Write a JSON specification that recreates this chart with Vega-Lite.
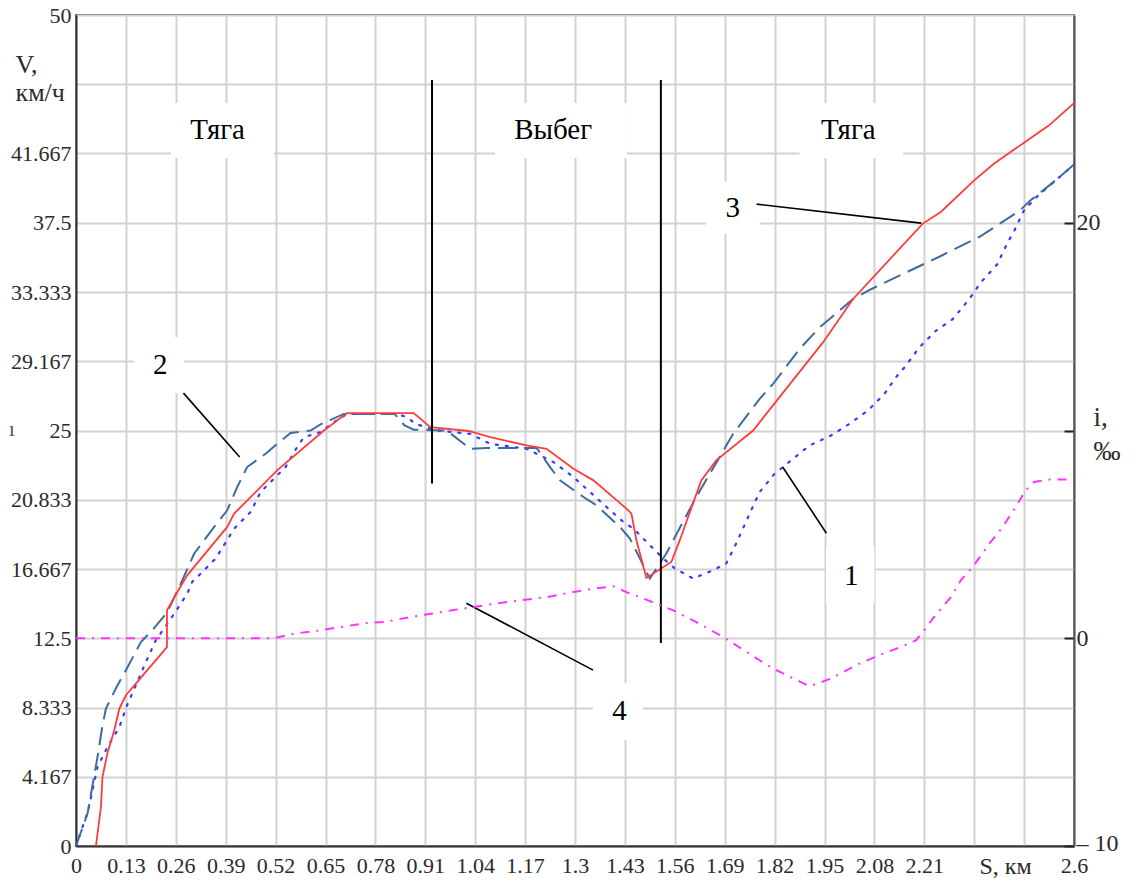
{
  "$schema": "https://vega.github.io/schema/vega-lite/v6.json",
  "width": 998,
  "height": 831,
  "autosize": {"type": "none"},
  "padding": {"left": 76, "top": 15, "right": 66, "bottom": 36},
  "background": "white",
  "config": {
    "view": {"stroke": "#555555", "strokeWidth": 2},
    "font": "Liberation Serif",
    "axis": {
      "labelFont": "Liberation Serif",
      "titleFont": "Liberation Serif",
      "labelFontSize": 22,
      "titleFontSize": 22,
      "titleFontWeight": "normal",
      "labelColor": "#2b2b2b",
      "titleColor": "#2b2b2b",
      "domainColor": "#333333",
      "domainWidth": 2,
      "gridColor": "#d2d2d2",
      "gridWidth": 2,
      "gridOpacity": 1,
      "labelOverlap": false,
      "labelFlush": false
    }
  },
  "datasets": {
    "s1": [
      {"s": 0, "v": 0}, {"s": 0.032, "v": 2.15}, {"s": 0.043, "v": 3.35}, {"s": 0.056, "v": 4.75},
      {"s": 0.082, "v": 5.96}, {"s": 0.113, "v": 7.16}, {"s": 0.133, "v": 8.47}, {"s": 0.156, "v": 9.67},
      {"s": 0.182, "v": 11.07}, {"s": 0.208, "v": 12.38}, {"s": 0.238, "v": 13.38}, {"s": 0.256, "v": 13.98},
      {"s": 0.29, "v": 15.19}, {"s": 0.303, "v": 15.9}, {"s": 0.325, "v": 16.39}, {"s": 0.364, "v": 17.3},
      {"s": 0.412, "v": 19.1}, {"s": 0.455, "v": 20.1}, {"s": 0.481, "v": 21.3}, {"s": 0.546, "v": 22.8},
      {"s": 0.576, "v": 24.0}, {"s": 0.594, "v": 24.6}, {"s": 0.637, "v": 24.9}, {"s": 0.672, "v": 25.5},
      {"s": 0.706, "v": 26.0}, {"s": 0.836, "v": 26.0}, {"s": 0.862, "v": 25.8}, {"s": 0.884, "v": 25.4},
      {"s": 0.94, "v": 25.0}, {"s": 1.027, "v": 24.8}, {"s": 1.079, "v": 24.2}, {"s": 1.174, "v": 23.9},
      {"s": 1.244, "v": 23.1}, {"s": 1.296, "v": 22.2}, {"s": 1.339, "v": 21.3}, {"s": 1.382, "v": 20.4},
      {"s": 1.426, "v": 19.5}, {"s": 1.452, "v": 19.1}, {"s": 1.495, "v": 18.1}, {"s": 1.53, "v": 17.3},
      {"s": 1.56, "v": 16.7}, {"s": 1.608, "v": 16.09}, {"s": 1.66, "v": 16.6}, {"s": 1.694, "v": 17.0},
      {"s": 1.72, "v": 18.2}, {"s": 1.755, "v": 20.0}, {"s": 1.781, "v": 21.3}, {"s": 1.82, "v": 22.4},
      {"s": 1.863, "v": 23.2}, {"s": 1.911, "v": 24.1}, {"s": 1.967, "v": 24.7}, {"s": 2.015, "v": 25.4},
      {"s": 2.063, "v": 26.2}, {"s": 2.106, "v": 27.2}, {"s": 2.136, "v": 28.2}, {"s": 2.162, "v": 28.9},
      {"s": 2.197, "v": 30.0}, {"s": 2.24, "v": 31.0}, {"s": 2.284, "v": 31.7}, {"s": 2.327, "v": 32.9},
      {"s": 2.357, "v": 33.9}, {"s": 2.4, "v": 35.0}, {"s": 2.427, "v": 36.3}, {"s": 2.444, "v": 37.0},
      {"s": 2.47, "v": 38.25}, {"s": 2.5, "v": 39.0}, {"s": 2.552, "v": 40.05}, {"s": 2.6, "v": 41.0}
    ],
    "s2": [
      {"s": 0, "v": 0}, {"s": 0.03, "v": 1.95}, {"s": 0.056, "v": 5.35}, {"s": 0.069, "v": 7.26},
      {"s": 0.078, "v": 8.27}, {"s": 0.108, "v": 9.67}, {"s": 0.13, "v": 10.57}, {"s": 0.169, "v": 12.27},
      {"s": 0.199, "v": 12.98}, {"s": 0.238, "v": 14.08}, {"s": 0.277, "v": 15.99}, {"s": 0.308, "v": 17.6},
      {"s": 0.36, "v": 19.2}, {"s": 0.394, "v": 20.2}, {"s": 0.42, "v": 21.6}, {"s": 0.446, "v": 22.8},
      {"s": 0.494, "v": 23.6}, {"s": 0.524, "v": 24.2}, {"s": 0.559, "v": 24.85}, {"s": 0.611, "v": 25.0},
      {"s": 0.637, "v": 25.37}, {"s": 0.698, "v": 26.0}, {"s": 0.83, "v": 26.0}, {"s": 0.856, "v": 25.3},
      {"s": 0.88, "v": 25.05}, {"s": 0.966, "v": 25.0}, {"s": 1.027, "v": 23.9}, {"s": 1.07, "v": 23.95},
      {"s": 1.2, "v": 23.95}, {"s": 1.235, "v": 22.8}, {"s": 1.261, "v": 22.0}, {"s": 1.322, "v": 21.0},
      {"s": 1.356, "v": 20.5}, {"s": 1.417, "v": 19.2}, {"s": 1.443, "v": 18.5}, {"s": 1.495, "v": 16.09},
      {"s": 1.538, "v": 17.6}, {"s": 1.556, "v": 18.4}, {"s": 1.616, "v": 21.0}, {"s": 1.712, "v": 24.8},
      {"s": 1.781, "v": 26.9}, {"s": 1.816, "v": 27.8}, {"s": 1.885, "v": 29.9}, {"s": 1.937, "v": 31.2},
      {"s": 2.024, "v": 32.9}, {"s": 2.071, "v": 33.5}, {"s": 2.253, "v": 35.5}, {"s": 2.357, "v": 36.7},
      {"s": 2.457, "v": 38.2}, {"s": 2.487, "v": 38.85}, {"s": 2.552, "v": 40.05}, {"s": 2.6, "v": 41.0}
    ],
    "s3": [
      {"s": 0.052, "v": 0}, {"s": 0.065, "v": 2.35}, {"s": 0.069, "v": 4.15}, {"s": 0.082, "v": 5.6},
      {"s": 0.1, "v": 7.0}, {"s": 0.113, "v": 8.27}, {"s": 0.13, "v": 9.07}, {"s": 0.16, "v": 9.87},
      {"s": 0.178, "v": 10.37}, {"s": 0.237, "v": 11.97}, {"s": 0.237, "v": 14.18}, {"s": 0.264, "v": 15.28},
      {"s": 0.29, "v": 16.3}, {"s": 0.394, "v": 19.2}, {"s": 0.412, "v": 20.0}, {"s": 0.464, "v": 21.2},
      {"s": 0.524, "v": 22.6}, {"s": 0.646, "v": 25.0}, {"s": 0.706, "v": 26.05}, {"s": 0.88, "v": 26.05},
      {"s": 0.923, "v": 25.2}, {"s": 1.023, "v": 24.97}, {"s": 1.079, "v": 24.6}, {"s": 1.174, "v": 24.1},
      {"s": 1.226, "v": 23.9}, {"s": 1.296, "v": 22.7}, {"s": 1.348, "v": 22.0}, {"s": 1.434, "v": 20.3},
      {"s": 1.447, "v": 20.0}, {"s": 1.46, "v": 18.4}, {"s": 1.486, "v": 16.13}, {"s": 1.551, "v": 17.09},
      {"s": 1.573, "v": 18.4}, {"s": 1.629, "v": 22.0}, {"s": 1.668, "v": 23.2}, {"s": 1.764, "v": 25.0},
      {"s": 1.946, "v": 30.3}, {"s": 2.024, "v": 32.9}, {"s": 2.206, "v": 37.45}, {"s": 2.253, "v": 38.15},
      {"s": 2.34, "v": 40.05}, {"s": 2.392, "v": 41.06}, {"s": 2.466, "v": 42.26}, {"s": 2.535, "v": 43.36},
      {"s": 2.6, "v": 44.7}
    ],
    "s4": [
      {"s": 0, "i": 0}, {"s": 0.516, "i": 0}, {"s": 0.568, "i": 0.22}, {"s": 0.637, "i": 0.38},
      {"s": 0.689, "i": 0.54}, {"s": 0.758, "i": 0.73}, {"s": 0.802, "i": 0.78}, {"s": 0.871, "i": 1.02},
      {"s": 0.992, "i": 1.38}, {"s": 1.105, "i": 1.7}, {"s": 1.226, "i": 1.98}, {"s": 1.33, "i": 2.34},
      {"s": 1.4, "i": 2.5}, {"s": 1.434, "i": 2.22}, {"s": 1.469, "i": 1.98}, {"s": 1.556, "i": 1.34},
      {"s": 1.616, "i": 0.78}, {"s": 1.686, "i": 0.06}, {"s": 1.781, "i": -1.06}, {"s": 1.816, "i": -1.46},
      {"s": 1.911, "i": -2.31}, {"s": 1.967, "i": -1.94}, {"s": 2.032, "i": -1.3}, {"s": 2.102, "i": -0.74},
      {"s": 2.149, "i": -0.42}, {"s": 2.188, "i": -0.1}, {"s": 2.206, "i": 0.3}, {"s": 2.232, "i": 0.94},
      {"s": 2.279, "i": 1.98}, {"s": 2.305, "i": 2.79}, {"s": 2.336, "i": 3.43}, {"s": 2.379, "i": 4.55},
      {"s": 2.414, "i": 5.35}, {"s": 2.448, "i": 6.32}, {"s": 2.474, "i": 7.12}, {"s": 2.496, "i": 7.52},
      {"s": 2.535, "i": 7.64}, {"s": 2.6, "i": 7.65}
    ],
    "phases": [
      {"s": 0.9275, "v": 21.81, "v2": 46.09},
      {"s": 1.5237, "v": 12.22, "v2": 46.09}
    ],
    "leaders": [
      {"s": 0.28, "v": 27.25, "s2": 0.4264, "v2": 23.4},
      {"s": 1.773, "v": 38.62, "s2": 2.202, "v2": 37.48},
      {"s": 1.841, "v": 22.8, "s2": 1.955, "v2": 18.82},
      {"s": 1.017, "v": 14.61, "s2": 1.347, "v2": 10.58}
    ],
    "boxes": [
      {"s": 0.247, "s2": 0.515, "v": 41.4, "v2": 44.7},
      {"s": 1.092, "s2": 1.435, "v": 41.4, "v2": 44.7},
      {"s": 1.885, "s2": 2.155, "v": 41.4, "v2": 44.7},
      {"s": 0.151, "s2": 0.281, "v": 27.25, "v2": 30.6},
      {"s": 1.641, "s2": 1.781, "v": 36.86, "v2": 39.97},
      {"s": 1.954, "s2": 2.08, "v": 14.6, "v2": 18.0},
      {"s": 1.347, "s2": 1.477, "v": 6.36, "v2": 9.79}
    ],
    "labels": [
      {"s": 0.369, "v": 42.52, "t": "Тяга"},
      {"s": 1.243, "v": 42.52, "t": "Выбег"},
      {"s": 2.012, "v": 42.52, "t": "Тяга"},
      {"s": 0.2197, "v": 28.39, "t": "2"},
      {"s": 1.711, "v": 37.84, "t": "3"},
      {"s": 2.02, "v": 15.69, "t": "1"},
      {"s": 1.416, "v": 7.57, "t": "4"}
    ],
    "stray": [
      {"s": -0.167, "v": 25.1, "t": "ı"}
    ]
  },
  "encoding": {
    "x": {
      "field": "s", "type": "quantitative",
      "scale": {"domain": [0, 2.6], "nice": false, "zero": false},
      "axis": {
        "values": [0, 0.13, 0.26, 0.39, 0.52, 0.65, 0.78, 0.91, 1.04, 1.17, 1.3, 1.43, 1.56, 1.69, 1.82, 1.95, 2.08, 2.21, 2.34, 2.47, 2.6],
        "format": ".2~f",
        "labelExpr": "datum.value > 2.3 && datum.value < 2.5 ? '' : datum.label",
        "grid": true,
        "ticks": false,
        "labelPadding": 9,
        "labelDx": 3,
        "title": "S, км",
        "titleFontSize": 24,
        "titleX": 929,
        "titleY": 27,
        "titleAlign": "center",
        "titleBaseline": "alphabetic"
      }
    }
  },
  "layer": [
    {
      "encoding": {
        "y": {
          "field": "v", "type": "quantitative",
          "scale": {"domain": [0, 50], "nice": false, "zero": false},
          "axis": {
            "values": [0, 4.1666667, 8.3333333, 12.5, 16.6666667, 20.8333333, 25, 29.1666667, 33.3333333, 37.5, 41.6666667, 45.8333333, 50],
            "labelExpr": "datum.value > 45 && datum.value < 46 ? '' : format(datum.value, '.3~f')",
            "grid": true,
            "ticks": false,
            "labelPadding": 5,
            "title": ["V,", "км/ч"],
            "titleFontSize": 26,
            "titleAngle": 0,
            "titleAlign": "left",
            "titleBaseline": "alphabetic",
            "titleX": -61,
            "titleY": 57,
            "titleLineHeight": 28
          }
        }
      },
      "layer": [
        {
          "data": {"name": "s1"},
          "mark": {"type": "line", "color": "#3a3aff", "strokeWidth": 2.2, "strokeDash": [2, 8], "strokeCap": "round"}
        },
        {
          "data": {"name": "s2"},
          "mark": {"type": "line", "color": "#3d6d9e", "strokeWidth": 2, "strokeDash": [18, 8]}
        },
        {
          "data": {"name": "s3"},
          "mark": {"type": "line", "color": "#ff3c3c", "strokeWidth": 1.8}
        },
        {
          "data": {"name": "phases"},
          "mark": {"type": "rule", "color": "black", "strokeWidth": 2},
          "encoding": {"y2": {"field": "v2"}}
        },
        {
          "data": {"name": "boxes"},
          "mark": {"type": "rect", "fill": "white"},
          "encoding": {"x2": {"field": "s2"}, "y2": {"field": "v2"}}
        },
        {
          "data": {"name": "leaders"},
          "mark": {"type": "rule", "color": "black", "strokeWidth": 1.6},
          "encoding": {"x2": {"field": "s2"}, "y2": {"field": "v2"}}
        },
        {
          "data": {"name": "labels"},
          "mark": {"type": "text", "font": "Liberation Serif", "fontSize": 29, "color": "black", "align": "center", "baseline": "alphabetic"},
          "encoding": {"text": {"field": "t"}}
        },
        {
          "data": {"name": "stray"},
          "mark": {"type": "text", "font": "Liberation Serif", "fontSize": 22, "color": "#3a5a8a", "align": "center", "baseline": "middle"},
          "encoding": {"text": {"field": "t"}}
        }
      ]
    },
    {
      "data": {"name": "s4"},
      "mark": {"type": "line", "color": "#ff33ff", "strokeWidth": 2, "strokeDash": [9, 7, 2, 7]},
      "encoding": {
        "y": {
          "field": "i", "type": "quantitative",
          "scale": {"domain": [-10, 30], "nice": false, "zero": false},
          "axis": {
            "orient": "right",
            "values": [-10, 0, 10, 20],
            "labelExpr": "datum.value == 10 ? '' : datum.value == -10 ? '– 10' : datum.label",
            "grid": false,
            "ticks": true,
            "tickSize": -10,
            "tickWidth": 2,
            "tickColor": "#222222",
            "labelPadding": 12,
            "labelFontSize": 24,
            "labelOffset": {"condition": {"test": "datum.value == -10", "value": -3}, "value": 0},
            "domainColor": "#555555",
            "title": ["i,", "‰"],
            "titleFontSize": 27,
            "titleAngle": 0,
            "titleAlign": "left",
            "titleBaseline": "alphabetic",
            "titleX": 19,
            "titleY": 410,
            "titleLineHeight": 34
          }
        }
      }
    }
  ],
  "resolve": {"scale": {"y": "independent"}}
}
